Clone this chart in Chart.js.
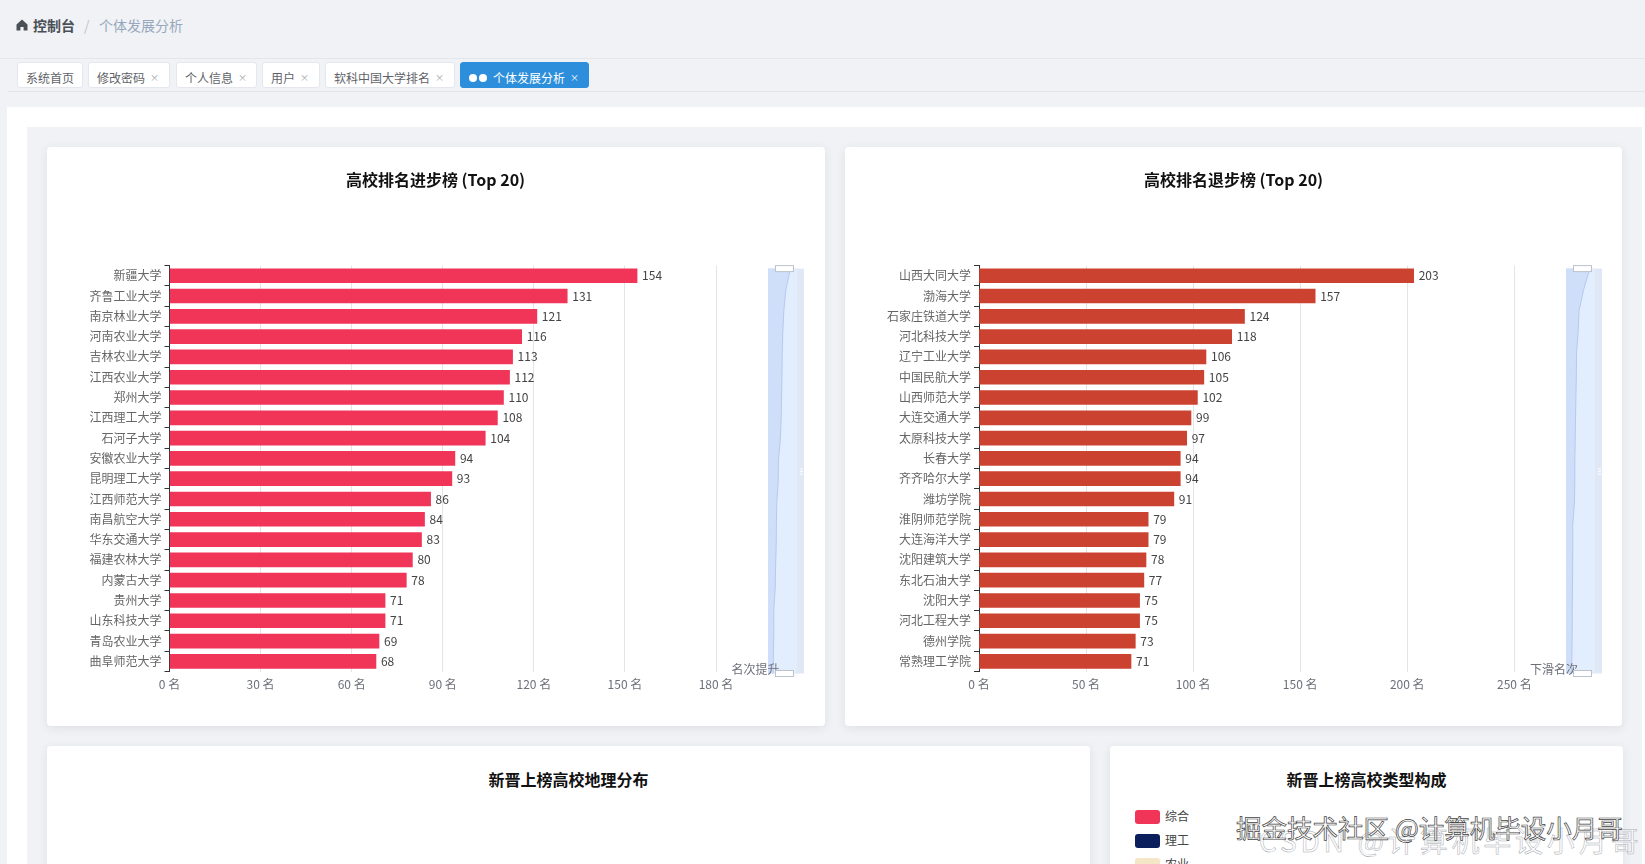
<!DOCTYPE html>
<html lang="zh">
<head>
<meta charset="utf-8">
<title>个体发展分析</title>
<script src="https://cdn.jsdelivr.net/npm/chart.js@4"></script>
<style>
html,body{margin:0;padding:0;width:1645px;height:864px;overflow:hidden;background:#f0f2f5;font-family:"Noto Sans CJK SC","Noto Sans",sans-serif;}
.abs{position:absolute;white-space:nowrap;}
#crumbLine{left:0;top:58px;width:1645px;height:1px;background:#e3e6ea;}
#tabLine{left:8px;top:91px;width:1637px;height:1px;background:#e1e4e8;}
.tab{position:absolute;top:62px;height:26px;box-sizing:border-box;background:#fff;border:1px solid #e4e7ed;border-radius:3px;color:#5f6368;font-size:12px;line-height:30px;padding-left:8px;white-space:nowrap;overflow:hidden;}
.tab i{font-style:normal;font-size:9px;color:#9aa0a6;margin-left:5px;position:relative;top:-2px;}
.tab.on{background:#2d8fdb;border-color:#2d8fdb;color:#fff;}
.tab.on i{color:#fff;}
.dot{display:inline-block;width:8px;height:8px;border-radius:50%;background:#fff;margin-right:2px;position:relative;top:-1px;}
#whitePanel{left:7px;top:107px;width:1638px;height:757px;background:#fff;}
#grayPanel{left:27px;top:127px;width:1615px;height:737px;background:#f0f2f5;}
.card{position:absolute;background:#fff;border-radius:4px;box-shadow:0 2px 10px rgba(60,70,90,.10);}
.card canvas{position:absolute;left:0;top:0;}
.ctitle{position:absolute;left:0;right:0;top:22px;text-align:center;font-size:16px;font-weight:700;line-height:22px;color:#111;}
.lg{position:absolute;left:25px;width:25px;height:14px;border-radius:3px;}
.lt{position:absolute;left:55px;font-size:12px;line-height:16px;color:#444;}
#wm1{left:1236px;top:811px;font-size:25.5px;line-height:32px;color:#fff;-webkit-text-stroke:.7px #444;font-weight:400;}
#wm2{left:1259px;top:823px;font-size:28px;letter-spacing:3.8px;line-height:34px;color:rgba(255,255,255,.75);-webkit-text-stroke:.5px #a9adb3;}
</style>
</head>
<body>
<div class="abs" id="crumbLine"></div>
<svg class="abs" style="left:16px;top:19px" width="12" height="12" viewBox="0 0 12 12"><path d="M6 .5 11.5 5.5V11.5H7.6V8H4.4V11.5H.5V5.5Z" fill="#4a5058"/></svg>
<div class="abs" style="left:33px;top:14px;font-size:14px;line-height:22px;font-weight:700;color:#4a5058">控制台</div>
<div class="abs" style="left:84px;top:14px;font-size:14px;line-height:22px;color:#c0c4cc">/</div>
<div class="abs" style="left:99px;top:14px;font-size:14px;line-height:22px;color:#97a8be">个体发展分析</div>
<div class="tab" style="left:17px;width:66px">系统首页</div>
<div class="tab" style="left:88px;width:82px">修改密码<i>×</i></div>
<div class="tab" style="left:176px;width:81px">个人信息<i>×</i></div>
<div class="tab" style="left:262px;width:58px">用户<i>×</i></div>
<div class="tab" style="left:325px;width:130px">软科中国大学排名<i>×</i></div>
<div class="tab on" style="left:460px;width:129px"><span class="dot"></span><span class="dot" style="margin-right:6px"></span>个体发展分析<i>×</i></div>
<div class="abs" id="tabLine"></div>
<div class="abs" id="whitePanel"></div>
<div class="abs" id="grayPanel"></div>

<div class="card" style="left:47px;top:147px;width:778px;height:579px"><canvas id="chartUp" style="left:-1px"></canvas></div>
<div class="card" style="left:845px;top:147px;width:777px;height:579px"><canvas id="chartDown"></canvas></div>
<div class="card" style="left:47px;top:746px;width:1043px;height:130px"><div class="ctitle">新晋上榜高校地理分布</div></div>
<div class="card" style="left:1110px;top:746px;width:513px;height:130px">
  <div class="ctitle">新晋上榜高校类型构成</div>
  <div class="lg" style="top:64px;background:#f03558"></div><div class="lt" style="top:62px">综合</div>
  <div class="lg" style="top:88px;background:#0a1f5c"></div><div class="lt" style="top:86px">理工</div>
  <div class="lg" style="top:112px;background:#f6e6c8"></div><div class="lt" style="top:110px">农业</div>
</div>
<div class="abs" id="wm2">CSDN @计算机毕设小月哥</div>
<div class="abs" id="wm1">掘金技术社区 @计算机毕设小月哥</div>

<script>
const upSchools = ["新疆大学","齐鲁工业大学","南京林业大学","河南农业大学","吉林农业大学","江西农业大学","郑州大学","江西理工大学","石河子大学","安徽农业大学","昆明理工大学","江西师范大学","南昌航空大学","华东交通大学","福建农林大学","内蒙古大学","贵州大学","山东科技大学","青岛农业大学","曲阜师范大学"];
const upValues = [154,131,121,116,113,112,110,108,104,94,93,86,84,83,80,78,71,71,69,68];
const downSchools = ["山西大同大学","渤海大学","石家庄铁道大学","河北科技大学","辽宁工业大学","中国民航大学","山西师范大学","大连交通大学","太原科技大学","长春大学","齐齐哈尔大学","潍坊学院","淮阴师范学院","大连海洋大学","沈阳建筑大学","东北石油大学","沈阳大学","河北工程大学","德州学院","常熟理工学院"];
const downValues = [203,157,124,118,106,105,102,99,97,94,94,91,79,79,78,77,75,75,73,71];
const FONT = '"Noto Sans CJK SC","Noto Sans",sans-serif';

function makeChart(id, title, labels, values, color, axisMax, step, axisName, o) {
  const barEnds = {
    id: 'barEnds',
    afterDatasetsDraw(chart) {
      const c = chart.ctx, meta = chart.getDatasetMeta(0);
      c.save();
      c.font = '12px ' + FONT; c.fillStyle = '#444'; c.textBaseline = 'middle'; c.textAlign = 'left';
      meta.data.forEach((b, i) => c.fillText(String(values[i]), b.x + 5, b.y));
      c.restore();
    }
  };
  const titleFull = {
    id: 'titleFull',
    afterLayout(chart) {
      const t = chart.titleBlock;
      if (t) { t.left = 0; t.right = chart.width; t.width = chart.width; }
    }
  };
  const sliderPlugin = {
    id: 'sliderPlugin',
    afterDraw(chart) {
      const c = chart.ctx, a = chart.chartArea;
      c.save();
      const L = o.sliderX, W = 36, SW = 29, T = a.top + 3, B = a.bottom + 2;
      c.fillStyle = 'rgba(218,227,243,.85)'; c.fillRect(L, T, W, B - T);
      c.fillStyle = 'rgba(226,237,253,.95)'; c.fillRect(L, T, SW, B - T);
      // data shadow, from the same values as the bars
      const pts = values.map((v, i) => [L + (v - o.shadowMin) * o.shadowK, T + (B - T) * i / (values.length - 1)]);
      c.beginPath(); c.moveTo(L, T);
      pts.forEach(p => c.lineTo(p[0], p[1]));
      c.lineTo(L, B); c.closePath();
      c.fillStyle = '#cfdffa'; c.fill();
      c.beginPath(); pts.forEach((p, i) => i ? c.lineTo(p[0], p[1]) : c.moveTo(p[0], p[1]));
      c.strokeStyle = '#b7c9ec'; c.lineWidth = 1; c.stroke();
      c.font = '12px ' + FONT; c.fillStyle = '#6e7079'; c.textBaseline = 'middle'; c.textAlign = 'left';
      c.fillText(axisName, o.nameX, a.bottom - 2);
      [T, B].forEach(y => {
        c.fillStyle = '#fff'; c.strokeStyle = '#bcc2cc'; c.lineWidth = 1;
        c.fillRect(L + 7, y - 3, 18, 6); c.strokeRect(L + 7.5, y - 3, 18, 6);
      });
      c.fillStyle = '#fff';
      for (let k = -1; k < 2; k++) c.fillRect(L + 32, (T + B) / 2 + k * 2.5, 3, 1);
      c.restore();
    }
  };
  return new Chart(document.getElementById(id), {
    type: 'bar',
    data: { labels, datasets: [{ data: values, backgroundColor: color, barThickness: 14 }] },
    options: {
      indexAxis: 'y', responsive: false, animation: false,
      devicePixelRatio: 1,
      layout: { padding: { left: 0, top: 0, right: o.rightPad, bottom: 24.5 } },
      plugins: {
        legend: { display: false }, tooltip: { enabled: false },
        title: { display: true, text: title, color: '#111', font: { size: 16, weight: 'bold', family: FONT }, padding: { top: 23.4, bottom: 76 } }
      },
      scales: {
        x: {
          position: 'bottom', min: 0, max: axisMax,
          afterFit(s) { s.height = 30; },
          border: { display: false },
          grid: { color: '#e3e4e8', drawTicks: false },
          ticks: { stepSize: step, padding: 6, color: '#6e7079', maxRotation: 0, font: { size: 12, family: FONT }, callback: v => v + ' 名' }
        },
        y: {
          afterFit(s) { s.width = o.axisW; },
          border: { display: true, color: '#333' },
          grid: { drawOnChartArea: false, drawTicks: true, tickColor: '#333', tickLength: 5, offset: true },
          ticks: { autoSkip: false, padding: 3, color: '#666', font: { size: 12, family: FONT } }
        }
      }
    },
    plugins: [barEnds, titleFull, sliderPlugin]
  });
}
function size(id, w, h) { const e = document.getElementById(id); e.width = w; e.height = h; e.style.width = w + 'px'; e.style.height = h + 'px'; }
size('chartUp', 779, 579); size('chartDown', 777, 579);
makeChart('chartUp', '高校排名进步榜 (Top 20)', upSchools, upValues, '#f03558', 180, 30, '名次提升',
  { axisW: 123.5, rightPad: 109, nameX: 685.5, sliderX: 722, shadowMin: 42, shadowK: .2 });
makeChart('chartDown', '高校排名退步榜 (Top 20)', downSchools, downValues, '#cb4230', 250, 50, '下滑名次',
  { axisW: 134, rightPad: 107.7, nameX: 685, sliderX: 721, shadowMin: 30, shadowK: .138 });
</script>
</body>
</html>
